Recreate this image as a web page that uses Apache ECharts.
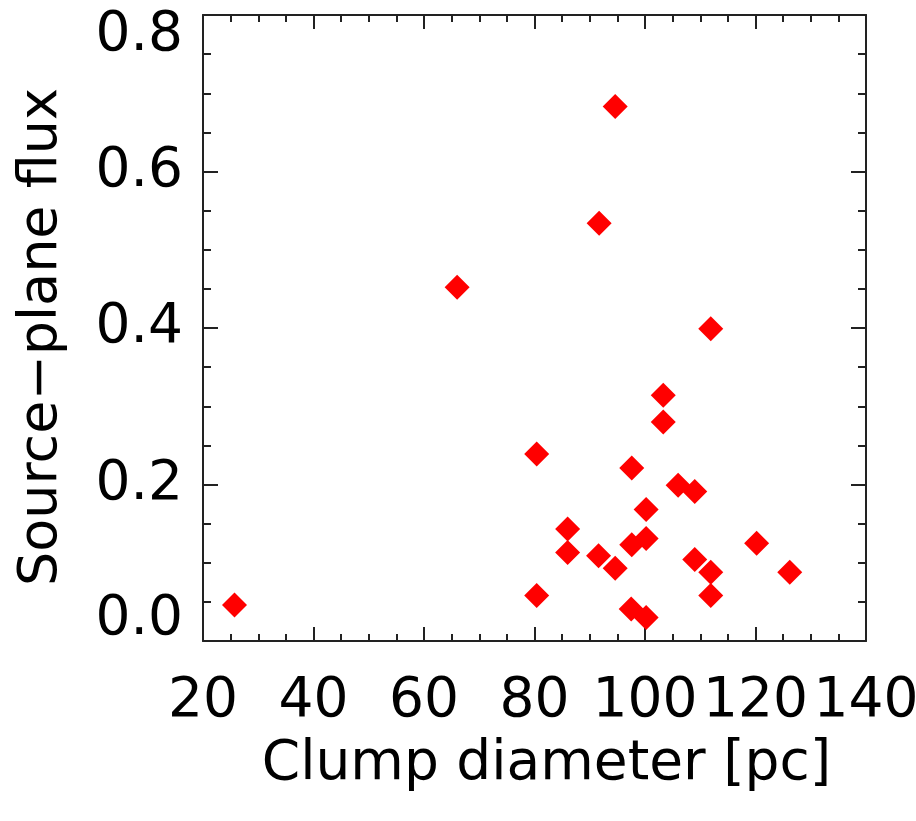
<!DOCTYPE html>
<html>
<head>
<meta charset="utf-8">
<script src="https://cdn.jsdelivr.net/npm/echarts@6/dist/echarts.min.js"></script>
<style>html,body{margin:0;padding:0;background:#fff}#c{width:916px;height:821px}</style>
</head>
<body>
<div id="c"></div>
<script>
// Clump diameter [pc]
const diameter = [25.7, 66.0, 80.4, 80.4, 86.0, 86.0, 91.6, 91.7, 94.6, 94.6, 97.5, 97.6, 97.6, 100.2, 100.2, 100.2, 103.3, 103.3, 106.0, 109.0, 109.0, 111.9, 111.9, 111.9, 120.2, 126.2];
// Source-plane flux
const flux = [0.046, 0.452, 0.239, 0.058, 0.143, 0.113, 0.109, 0.534, 0.683, 0.093, 0.041, 0.221, 0.123, 0.168, 0.131, 0.030, 0.314, 0.280, 0.199, 0.191, 0.104, 0.399, 0.088, 0.058, 0.125, 0.088];
const xTicks = [20, 40, 60, 80, 100, 120, 140];
const yTicks = ['0.0', '0.2', '0.4', '0.6', '0.8'];

const FONT = 'DejaVu Sans';
const AX = '#222';
const points = diameter.map((d, i) => [d, flux[i]]);

function xAxisCfg(pos, showLabels) {
  return {
    type: 'value', position: pos, min: xTicks[0], max: xTicks[xTicks.length - 1], interval: 20,
    axisLine: { show: true, onZero: false, lineStyle: { color: AX, width: 2 } },
    axisTick: { show: true, inside: true, length: 14, lineStyle: { color: AX, width: 2 } },
    minorTick: { show: true, splitNumber: 4, length: 7, lineStyle: { color: AX, width: 2 } },
    splitLine: { show: false },
    axisLabel: showLabels ? {
      show: true, margin: 33, color: '#000', fontFamily: FONT, fontSize: 55, verticalAlign: 'top',
      formatter: v => String(v)
    } : { show: false },
    name: showLabels ? 'Clump diameter [pc]' : '',
    nameLocation: 'middle', nameGap: 96,
    nameTextStyle: { color: '#000', fontFamily: FONT, fontSize: 55, verticalAlign: 'top', padding: [0, 0, 0, 24] }
  };
}
function yAxisCfg(pos, showLabels) {
  return {
    type: 'value', position: pos, min: 0, max: 0.8, interval: 0.2,
    axisLine: { show: true, onZero: false, lineStyle: { color: AX, width: 2 } },
    axisTick: { show: true, inside: true, length: 15, lineStyle: { color: AX, width: 2 } },
    minorTick: { show: true, splitNumber: 4, length: 8, lineStyle: { color: AX, width: 2 } },
    splitLine: { show: false },
    axisLabel: showLabels ? {
      show: true, margin: 20, color: '#000', fontFamily: FONT, fontSize: 55, lineHeight: 42,
      verticalAlignMinLabel: 'bottom', verticalAlignMaxLabel: 'top',
      formatter: v => yTicks[Math.round(v / 0.2)]
    } : { show: false },
    name: showLabels ? 'Source\u2212plane flux' : '',
    nameLocation: 'middle', nameGap: 134, nameRotate: 90,
    nameTextStyle: { color: '#000', fontFamily: FONT, fontSize: 54, padding: [0, 18, 0, 0] }
  };
}

const chart = echarts.init(document.getElementById('c'), null, { renderer: 'canvas' });
chart.setOption({
  backgroundColor: '#fff',
  animation: false,
  grid: { left: 203, right: 50, top: 15, bottom: 180, containLabel: false, outerBoundsMode: 'none' },
  xAxis: [xAxisCfg('bottom', true), xAxisCfg('top', false)],
  yAxis: [yAxisCfg('left', true), yAxisCfg('right', false)],
  series: [{
    type: 'scatter',
    data: points,
    symbol: 'diamond',
    symbolSize: 25,
    itemStyle: { color: '#ff0000', opacity: 1 },
    clip: false
  }]
});
</script>
</body>
</html>
